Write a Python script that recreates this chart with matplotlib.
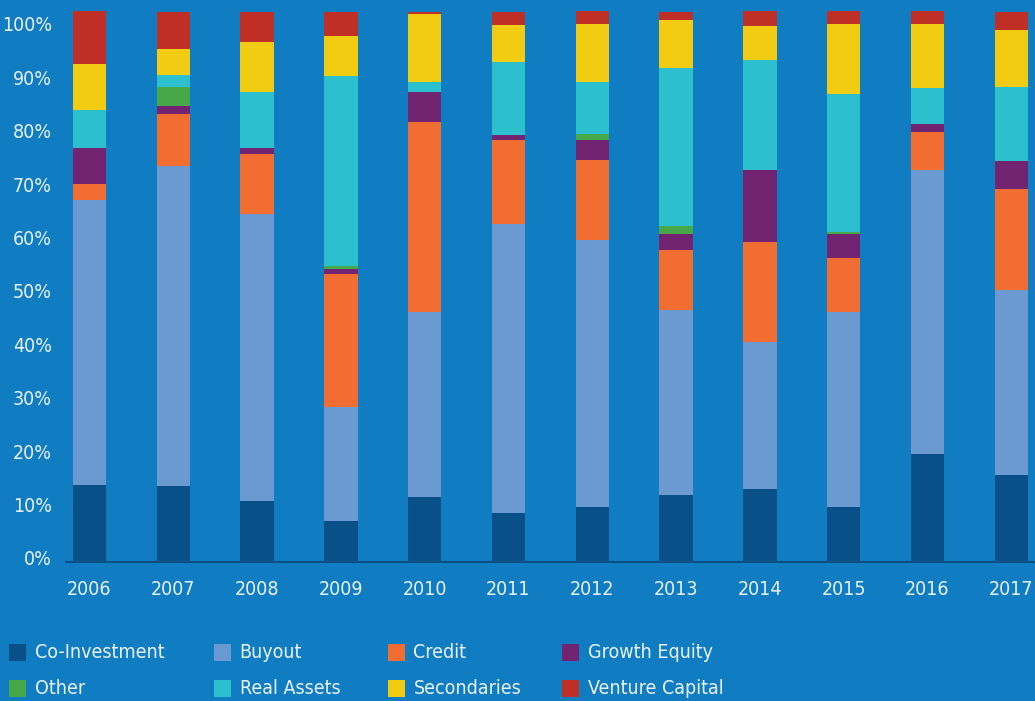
import matplotlib
matplotlib.use("Agg")
import matplotlib.pyplot as plt
from matplotlib import font_manager
from matplotlib.patches import Rectangle
from matplotlib.transforms import ScaledTranslation
import numpy as np

# Allocation by strategy and vintage year (% of commitments)
years = ["2006", "2007", "2008", "2009", "2010", "2011",
         "2012", "2013", "2014", "2015", "2016", "2017"]

co_investment   = [14.5, 14.3, 11.5,  7.7, 12.2,  9.2, 10.4, 12.6, 13.7, 10.4, 20.3, 16.3]
buyout          = [53.4, 59.9, 53.7, 21.3, 34.6, 54.1, 50.0, 34.6, 27.5, 36.5, 53.2, 34.6]
credit          = [ 3.0,  9.7, 11.2, 24.9, 35.6, 15.7, 15.0, 11.2, 18.7, 10.1,  7.1, 19.1]
growth_equity   = [ 6.7,  1.5,  1.1,  1.1,  5.6,  1.1,  3.7,  3.0, 13.5,  4.5,  1.5,  5.2]
other           = [ 0.0,  3.7,  0.0,  0.4,  0.0,  0.0,  1.1,  1.5,  0.0,  0.4,  0.0,  0.0]
real_assets     = [ 7.1,  2.2, 10.5, 35.6,  1.9, 13.5,  9.7, 29.6, 20.6, 25.8,  6.7, 13.9]
secondaries     = [ 8.6,  4.9,  9.4,  7.5, 12.7,  7.1, 10.9,  9.0,  6.4, 13.1, 12.0, 10.5]
venture_capital = [ 9.9,  6.9,  5.7,  4.6,  0.5,  2.4,  2.4,  1.6,  2.8,  2.4,  2.4,  3.5]

series_names = ["Co-Investment", "Buyout", "Credit", "Growth Equity",
                "Other", "Real Assets", "Secondaries", "Venture Capital"]
series_values = [co_investment, buyout, credit, growth_equity,
                 other, real_assets, secondaries, venture_capital]
series_colors = ["#0a5088", "#6a9ad0", "#f26d32", "#722471",
                 "#47a84a", "#2cbfce", "#f2cc12", "#bf2f26"]

y_ticks = [0, 10, 20, 30, 40, 50, 60, 70, 80, 90, 100]

BG = "#107dc2"
TXT = "#e9f1f8"

# Prefer a condensed face for the labels when one is installed
condensed = [f for f in font_manager.fontManager.ttflist
             if f.name == "DejaVu Sans" and f.stretch == "condensed"
             and f.weight in ("normal", 400) and f.style == "normal"]
if condensed:
    label_font = font_manager.FontProperties(fname=condensed[0].fname, size=14)
else:
    label_font = font_manager.FontProperties(family="Liberation Sans", size=13.5)

W, H = 1035, 701
fig = plt.figure(figsize=(W / 100, H / 100), dpi=100, facecolor=BG)
ax = fig.add_axes([65.7 / W, 1 - 562.3 / H, 1 - 65.7 / W, 562.3 / H])
ax.set_facecolor(BG)

x = np.arange(len(years))
bottom = np.zeros(len(years))
for name, vals, col in zip(series_names, series_values, series_colors):
    vals = np.asarray(vals, dtype=float)
    ax.bar(x, vals, width=0.40, bottom=bottom, color=col, linewidth=0, label=name)
    bottom += vals

ax.set_xlim(-0.284, 11.283)
ax.set_ylim(0, 105.3)

for side in ("top", "right", "left"):
    ax.spines[side].set_visible(False)
ax.spines["bottom"].set_color("#0a4f86")
ax.spines["bottom"].set_linewidth(1.5)

ax.set_xticks(x)
ax.set_xticklabels(years, fontproperties=label_font)
ax.set_yticks(y_ticks)
ax.set_yticklabels([f"{t}%" for t in y_ticks], fontproperties=label_font)
ax.tick_params(axis="both", length=0, colors=TXT)
ax.tick_params(axis="y", pad=10)
ax.tick_params(axis="x", pad=13)
for lbl in ax.get_yticklabels():
    lbl.set_transform(lbl.get_transform() + ScaledTranslation(0, 4.5 / 100, fig.dpi_scale_trans))

# Legend laid out on a fixed grid along the bottom
col_x = [9.2, 214, 388, 562]
row_y = [652.5, 688.5]
sq = 17
for i, (name, col) in enumerate(zip(series_names, series_colors)):
    r, c = divmod(i, 4)
    cx, cy = col_x[c], row_y[r]
    fig.patches.append(Rectangle((cx / W, 1 - (cy + sq / 2) / H), sq / W, sq / H,
                                 transform=fig.transFigure, color=col, linewidth=0))
    fig.text((cx + sq + 8.5) / W, 1 - cy / H, name, color=TXT,
             fontproperties=label_font, va="center", ha="left")

fig.savefig("out.png", dpi=100, facecolor=BG)
